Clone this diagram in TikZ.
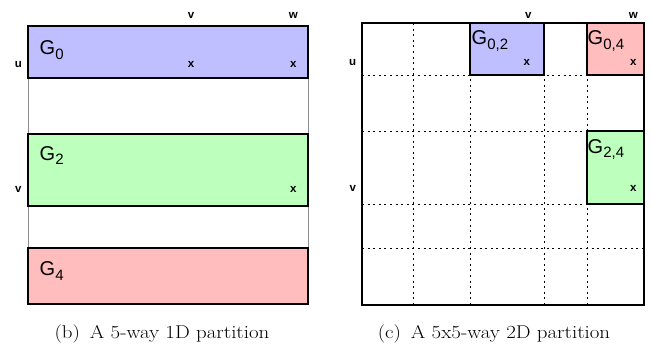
\documentclass[tikz,border=0pt]{standalone}
\usepackage{fontspec}
\setsansfont{Liberation Sans}
\begin{document}
\begin{tikzpicture}[x=1pt,y=-1pt,
  box/.style={draw=black,line width=2.6pt},
  thinbox/.style={draw=black!45,line width=0.6pt},
  gridline/.style={draw=black,line width=0.9pt,dash pattern=on 2pt off 3.6pt},
  lbl/.style={font=\sffamily\bfseries\fontsize{11.5}{11.5}\selectfont,inner sep=0pt,anchor=base},
  glbl/.style={font=\sffamily\fontsize{20}{20}\selectfont,inner sep=0pt,anchor=base west},
  captext/.style={font=\fontsize{18.5}{20}\selectfont,inner sep=0pt,anchor=base}]
\newcommand{\gsub}[1]{\raisebox{-5pt}{\fontsize{15}{15}\selectfont #1}}
\useasboundingbox (0,0) rectangle (651,345);
% ---------- left panel ----------
\fill[fill=white] (28,78) rectangle (308,134);
\draw[thinbox] (28,78) -- (28,134) (308,78) -- (308,134);
\draw[thinbox] (28,206) -- (28,248) (308,206) -- (308,248);
\filldraw[box,fill={rgb,255:red,191;green,191;blue,255}] (28,26) rectangle (308,78);
\filldraw[box,fill={rgb,255:red,189;green,255;blue,189}] (28,134) rectangle (308,206);
\filldraw[box,fill={rgb,255:red,255;green,189;blue,189}] (28,248) rectangle (308,304);
\node[glbl] (g0) at (39.5,55) {G\gsub{0}};
\node[glbl] (g2) at (39.5,160) {G\gsub{2}};
\node[glbl] (g4) at (39.5,275) {G\gsub{4}};
\node[lbl] (lv) at (191,18.3) {v};
\node[lbl] (lw) at (293.3,18.3) {w};
\node[lbl] (lu) at (18.3,68) {u};
\node[lbl] (lx1) at (191,68) {x};
\node[lbl] (lx2) at (293.3,68) {x};
\node[lbl] (lv2) at (18.3,192.7) {v};
\node[lbl] (lx3) at (293.3,192.7) {x};
\node[captext] (capb) at (162,338) {\scalebox{1.13}[1]{(b)\, A 5-way 1D partition}};
% ---------- right panel ----------
\foreach \xx in {413,470,544,587} \draw[gridline] (\xx,23) -- (\xx,305);
\foreach \yy in {75,131,204,248} \draw[gridline] (362,\yy) -- (644,\yy);
\draw[box] (362,23) rectangle (644,305);
\filldraw[box,fill={rgb,255:red,191;green,191;blue,255}] (470,23) rectangle (544,75);
\filldraw[box,fill={rgb,255:red,255;green,189;blue,189}] (587,23) rectangle (644,75);
\filldraw[box,fill={rgb,255:red,189;green,255;blue,189}] (587,131) rectangle (644,204);
\node[glbl] (g02) at (471.5,45) {G\gsub{0,2}};
\node[glbl] (g04) at (587.5,45) {G\gsub{0,4}};
\node[glbl] (g24) at (587.5,153) {G\gsub{2,4}};
\node[lbl] (rv) at (528.3,18.3) {v};
\node[lbl] (rw) at (633.3,18.3) {w};
\node[lbl] (ru) at (352.7,65.5) {u};
\node[lbl] (rx1) at (526.7,65.5) {x};
\node[lbl] (rx2) at (633.3,65.5) {x};
\node[lbl] (rv2) at (352.7,191.7) {v};
\node[lbl] (rx3) at (633.3,191.7) {x};
\node[captext] (capc) at (494,338) {\scalebox{1.13}[1]{(c)\, A 5x5-way 2D partition}};
\end{tikzpicture}
\end{document}
